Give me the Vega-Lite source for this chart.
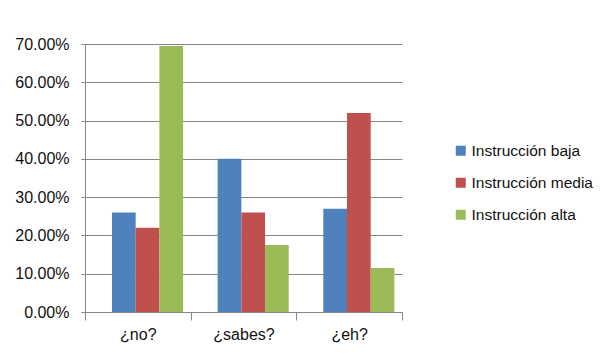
{
  "$schema": "https://vega.github.io/schema/vega-lite/v6.json",
  "width": 317,
  "height": 268,
  "autosize": {"type": "none"},
  "padding": {"left": 85, "top": 44, "right": 213, "bottom": 52},
  "background": "white",
  "config": {
    "font": "Liberation Sans",
    "view": {"stroke": null},
    "axis": {"labelFontSize": 16, "labelColor": "#111111", "labelFont": "Liberation Sans"}
  },
  "data": {
    "values": [
      {"categoria": "¿no?", "serie": "Instrucción baja", "valor": 0.26},
      {"categoria": "¿no?", "serie": "Instrucción media", "valor": 0.22},
      {"categoria": "¿no?", "serie": "Instrucción alta", "valor": 0.695},
      {"categoria": "¿sabes?", "serie": "Instrucción baja", "valor": 0.40},
      {"categoria": "¿sabes?", "serie": "Instrucción media", "valor": 0.26},
      {"categoria": "¿sabes?", "serie": "Instrucción alta", "valor": 0.175},
      {"categoria": "¿eh?", "serie": "Instrucción baja", "valor": 0.27},
      {"categoria": "¿eh?", "serie": "Instrucción media", "valor": 0.52},
      {"categoria": "¿eh?", "serie": "Instrucción alta", "valor": 0.115}
    ]
  },
  "mark": {"type": "bar"},
  "encoding": {
    "x": {
      "field": "categoria",
      "type": "nominal",
      "sort": ["¿no?", "¿sabes?", "¿eh?"],
      "scale": {"paddingInner": 0, "paddingOuter": 0},
      "axis": {
        "title": null,
        "labelAngle": 0,
        "domainColor": "#868686",
        "tickColor": "#868686",
        "tickBand": "extent",
        "tickSize": 8,
        "labelPadding": 6
      }
    },
    "xOffset": {
      "field": "serie",
      "type": "nominal",
      "sort": ["Instrucción baja", "Instrucción media", "Instrucción alta"],
      "scale": {"paddingInner": 0, "paddingOuter": 0.73, "align": 0.78}
    },
    "y": {
      "field": "valor",
      "type": "quantitative",
      "scale": {"domain": [0, 0.7], "nice": false},
      "axis": {
        "title": null,
        "format": ".2%",
        "values": [0, 0.1, 0.2, 0.3, 0.4, 0.5, 0.6, 0.7],
        "domainColor": "#868686",
        "tickColor": "#868686",
        "gridColor": "#868686",
        "tickSize": 4,
        "labelPadding": 12
      }
    },
    "color": {
      "field": "serie",
      "type": "nominal",
      "sort": ["Instrucción baja", "Instrucción media", "Instrucción alta"],
      "scale": {"range": ["#4F81BD", "#C0504D", "#9BBB59"]},
      "legend": {
        "title": null,
        "orient": "none",
        "legendX": 368,
        "legendY": 99,
        "symbolType": "square",
        "symbolSize": 100,
        "symbolStrokeWidth": 0,
        "symbolOpacity": 1,
        "labelFontSize": 15.5,
        "labelColor": "#111111",
        "labelOffset": 3,
        "rowPadding": 15
      }
    }
  }
}
